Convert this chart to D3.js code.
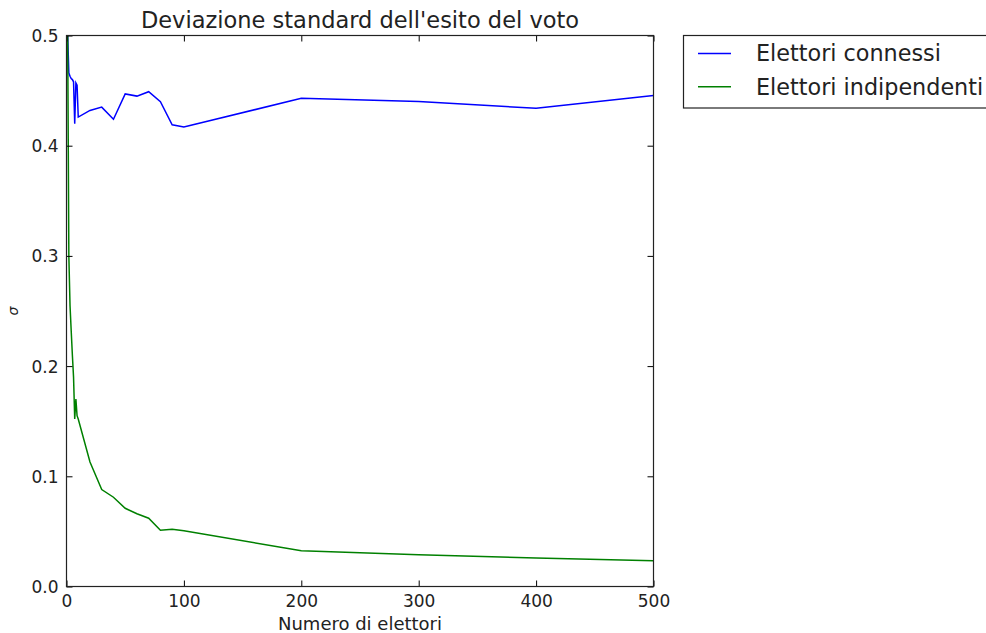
<!DOCTYPE html>
<html><head><meta charset="utf-8">
<script src="https://cdn.jsdelivr.net/npm/d3@7"></script>
<style>body{margin:0;background:#fff;}svg{display:block;font-family:"DejaVu Sans",sans-serif;}</style>
</head><body>
<svg id="c" width="986" height="633"></svg>
<script>
const titleText = "Deviazione standard dell'esito del voto";
const xLabel = "Numero di elettori";
const yLabel = "σ";
const voters = [1,2,3,4,5,6,7,8,9,10,20,30,40,50,60,70,80,90,100,200,300,400,500];
const connected = [0.5,0.466,0.463,0.461,0.46,0.458,0.42,0.457,0.455,0.426,0.432,0.435,0.424,0.447,0.445,0.449,0.44,0.419,0.417,0.443,0.44,0.434,0.4455];
const independent = [0.5,0.30,0.255,0.232,0.21,0.19,0.152,0.17,0.155,0.152,0.113,0.088,0.081,0.071,0.066,0.062,0.051,0.052,0.0506,0.0325,0.0289,0.0259,0.0234];
const xTicks = [0,100,200,300,400,500];
const yTicks = [0.0,0.1,0.2,0.3,0.4,0.5];
const seriesNames = ["Elettori connessi","Elettori indipendenti"];
const seriesColors = ["#0000ff","#008000"];

const svg = d3.select("#c");
const L=66.5,R=653.5,T=35.5,B=586.5;
const x = d3.scaleLinear().domain([0,500]).range([L,R]);
const y = d3.scaleLinear().domain([0,0.5]).range([B,T]);

svg.append("clipPath").attr("id","clip").append("rect").attr("x",L).attr("y",T).attr("width",R-L).attr("height",B-T);

const series=[connected,independent];
const line = d3.line().x((d,i)=>x(voters[i])).y(d=>y(d));
series.forEach((s,k)=>{
  svg.append("path").datum(s).attr("d",line).attr("fill","none")
    .attr("stroke",seriesColors[k]).attr("stroke-width",1.5).attr("clip-path","url(#clip)");
});

const fmtY = d3.format(".1f");
const axB = svg.append("g").attr("transform",`translate(0,${B})`).call(d3.axisBottom(x).tickValues(xTicks).tickSizeInner(-6).tickSizeOuter(0).tickPadding(8));
const axT = svg.append("g").attr("transform",`translate(0,${T})`).call(d3.axisTop(x).tickValues(xTicks).tickSizeInner(-6).tickSizeOuter(0).tickFormat(""));
const axL = svg.append("g").attr("transform",`translate(${L},0)`).call(d3.axisLeft(y).tickValues(yTicks).tickSizeInner(-6).tickSizeOuter(0).tickPadding(8).tickFormat(fmtY));
const axR = svg.append("g").attr("transform",`translate(${R},0)`).call(d3.axisRight(y).tickValues(yTicks).tickSizeInner(-6).tickSizeOuter(0).tickFormat(""));
[axB,axT,axL,axR].forEach(a=>{
  a.select(".domain").remove();
  a.selectAll("line").attr("stroke","#000").attr("stroke-width",1);
  a.selectAll("text").attr("font-size",17).attr("fill","#222").attr("font-family","DejaVu Sans");
});
axB.selectAll("text").attr("dy","0.71em");
axL.selectAll("text").attr("dy","0.35em");

svg.append("rect").attr("x",L).attr("y",T).attr("width",R-L).attr("height",B-T)
  .attr("fill","none").attr("stroke","#222").attr("stroke-width",1.2);

svg.append("text").attr("x",(L+R)/2).attr("y",28).attr("text-anchor","middle")
  .attr("font-size",22.5).attr("fill","#222").text(titleText);
svg.append("text").attr("x",(L+R)/2).attr("y",630).attr("text-anchor","middle")
  .attr("font-size",18).attr("fill","#222").text(xLabel);
svg.append("text").attr("transform","translate(18,311) rotate(-90)").attr("text-anchor","middle")
  .attr("font-size",14).attr("font-style","italic").attr("fill","#222").text(yLabel);

const lg = svg.append("g");
lg.append("rect").attr("x",683.5).attr("y",35.5).attr("width",320).attr("height",72.5)
  .attr("fill","#fff").attr("stroke","#222").attr("stroke-width",1.2);
seriesNames.forEach((n,k)=>{
  const yy = 53.5 + k*33.3;
  lg.append("line").attr("x1",698).attr("x2",731).attr("y1",yy).attr("y2",yy).attr("stroke",seriesColors[k]).attr("stroke-width",1.5);
  lg.append("text").attr("x",756).attr("y",yy).attr("dy","0.35em").attr("font-size",22.3).attr("fill","#222").text(n);
});
</script>
</body></html>
